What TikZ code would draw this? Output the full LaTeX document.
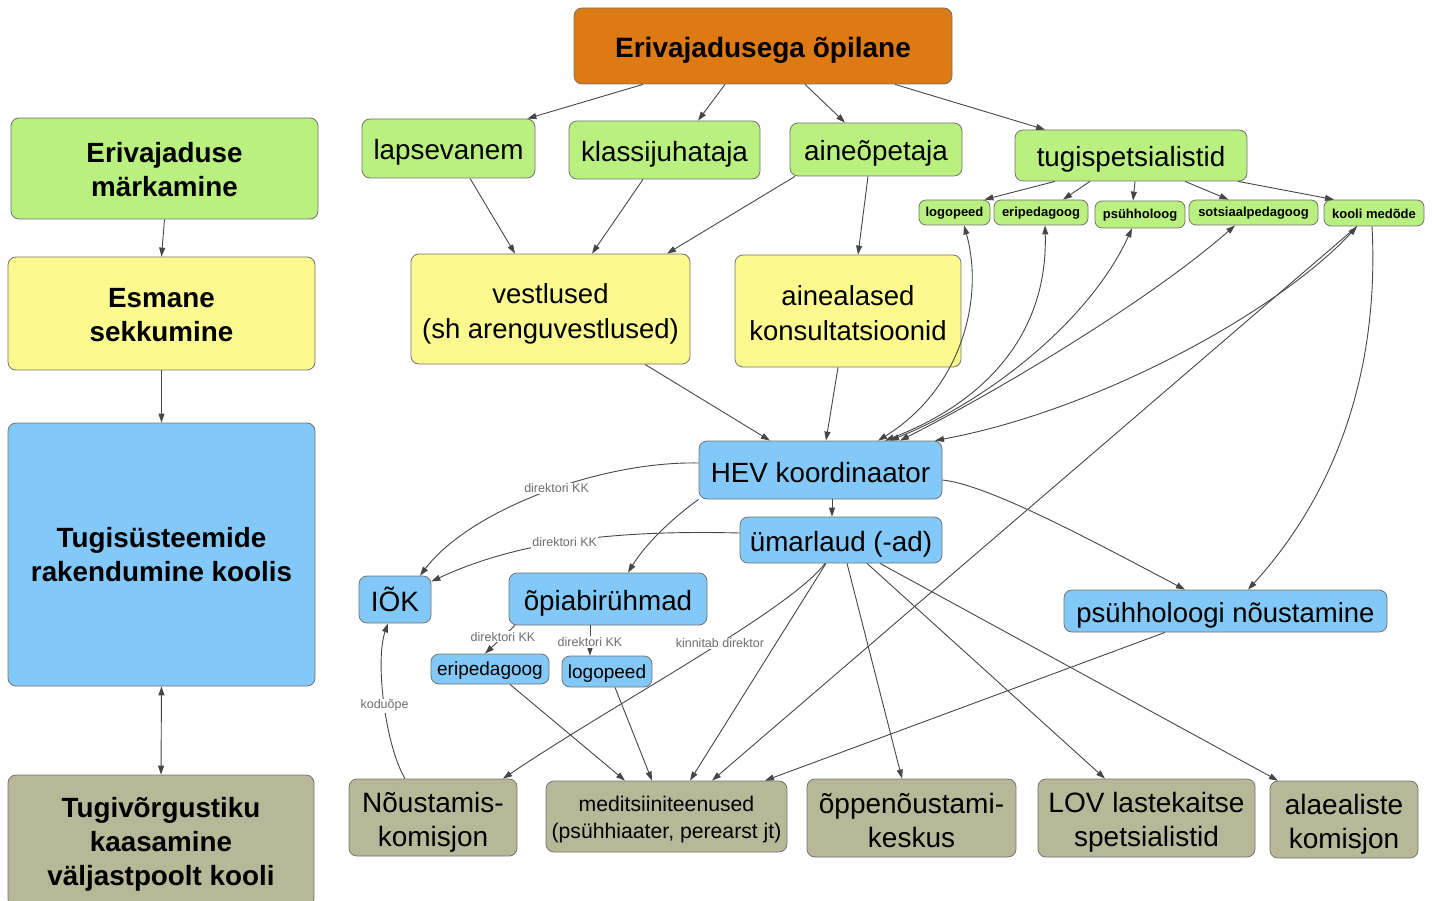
\documentclass[tikz,border=0pt]{standalone}
\usepackage{fontspec}
\setmainfont{Liberation Sans}
\usetikzlibrary{arrows.meta}
\definecolor{corange}{RGB}{221,122,20}
\definecolor{cgreen}{RGB}{185,240,128}
\definecolor{cyellow}{RGB}{252,250,142}
\definecolor{cblue}{RGB}{130,200,248}
\definecolor{colive}{RGB}{182,184,152}
\definecolor{bordc}{RGB}{115,115,110}
\definecolor{linec}{RGB}{70,70,70}
\definecolor{lblc}{RGB}{110,110,110}
\newcommand{\myfs}[2]{\fontsize{#1}{#2}\selectfont}
\newcommand{\dn}[2][4pt]{\raisebox{-#1}[\height][\depth]{#2}}
\begin{document}
\begin{tikzpicture}[x=1pt,y=-1pt,
  box/.style={draw=bordc, rounded corners=8pt, line width=0.8pt, inner sep=0pt, align=center, text=black, font=\myfs{27.8}{34}},
  bigbold/.style={box, font=\myfs{27.8}{34}\bfseries},
  small/.style={box, fill=cgreen, rounded corners=7pt, font=\myfs{13}{15}\bfseries},
  arr/.style={draw=linec, line width=0.9pt, -{Triangle[length=9pt,width=6pt]}},
  bi/.style={draw=linec, line width=0.9pt, {Triangle[length=9pt,width=6pt]}-{Triangle[length=9pt,width=6pt]}},
  lbl/.style={font=\myfs{12.5}{14}, text=lblc, fill=white, inner sep=1pt}
]
\useasboundingbox (0,0) rectangle (1434,901);

% left column
\node[bigbold, fill=cgreen, minimum width=307pt, minimum height=101pt] (L1) at (164.5,168.5) {\dn[1pt]{Erivajaduse}\\\dn[1pt]{märkamine}};
\node[bigbold, fill=cyellow, minimum width=307pt, minimum height=113pt] (L2) at (161.5,313.5) {\dn[2pt]{Esmane}\\\dn[2pt]{sekkumine}};
\node[bigbold, fill=cblue, minimum width=307pt, minimum height=263pt] (L3) at (161.5,554.5) {\dn[0.5pt]{Tugisüsteemide}\\\dn[0.5pt]{rakendumine koolis}};
\node[bigbold, fill=colive, minimum width=306pt, minimum height=132pt] (L4) at (161,841) {\dn[3.5pt]{Tugivõrgustiku}\\\dn[3.5pt]{kaasamine}\\\dn[3.5pt]{väljastpoolt kooli}};
\draw[arr] (L1.south) -- (L2.north);
\draw[arr] (L2.south) -- (L3.north);
\draw[bi] (L3.south) -- (L4.north);

% top
\node[box, fill=corange, minimum width=378pt, minimum height=76pt, font=\myfs{28}{32}\bfseries] (top) at (763,46) {\dn{Erivajadusega õpilane}};
\node[box, fill=cgreen, minimum width=173pt, minimum height=59pt] (lapse) at (448.5,148.5) {\dn{lapsevanem}};
\node[box, fill=cgreen, minimum width=191pt, minimum height=58pt] (klass) at (664.5,150) {\dn{klassijuhataja}};
\node[box, fill=cgreen, minimum width=172pt, minimum height=53pt] (aine) at (876,149.5) {\dn{aineõpetaja}};
\node[box, fill=cgreen, minimum width=232pt, minimum height=51pt] (tugi) at (1131,155.5) {\dn{tugispetsialistid}};

\node[small, minimum width=71pt, minimum height=25pt] (slogo) at (954.5,212.5) {\dn[1pt]{logopeed}};
\node[small, minimum width=94pt, minimum height=25pt] (seri) at (1041,212.5) {\dn[1pt]{eripedagoog}};
\node[small, minimum width=90pt, minimum height=27pt] (spsy) at (1140,214.5) {\dn[1pt]{psühholoog}};
\node[small, minimum width=129pt, minimum height=25pt] (ssots) at (1253.5,212.5) {\dn[1pt]{sotsiaalpedagoog}};
\node[small, minimum width=100pt, minimum height=26pt] (smed) at (1374,213) {\dn[1pt]{kooli medõde}};

\node[box, fill=cyellow, minimum width=279pt, minimum height=110pt, font=\myfs{27.5}{35}] (vest) at (550.5,309) {\dn[5pt]{vestlused}\\\dn[5pt]{(sh arenguvestlused)}};
\node[box, fill=cyellow, minimum width=226pt, minimum height=112pt, font=\myfs{27.5}{35}] (ainea) at (848,311) {\dn[2pt]{ainealased}\\\dn[2pt]{konsultatsioonid}};

\node[box, fill=cblue, minimum width=243pt, minimum height=58pt] (hev) at (820.5,470) {\dn[3pt]{HEV koordinaator}};
\node[box, fill=cblue, minimum width=202pt, minimum height=46pt] (umar) at (841,540) {\dn{ümarlaud (-ad)}};
\node[box, fill=cblue, minimum width=72pt, minimum height=47pt, font=\myfs{28}{34}] (iok) at (395,599.5) {IÕK};
\node[box, fill=cblue, minimum width=198pt, minimum height=52pt] (opi) at (608,599) {\dn{õpiabirühmad}};
\node[box, fill=cblue, minimum width=118pt, minimum height=30pt, font=\myfs{19}{22}] (beri) at (490,669) {\dn[2pt]{eripedagoog}};
\node[box, fill=cblue, minimum width=90pt, minimum height=31pt, font=\myfs{19}{22}] (blogo) at (607,671.5) {\dn[2pt]{logopeed}};
\node[box, fill=cblue, minimum width=323pt, minimum height=42pt, font=\myfs{27.5}{34}] (pnou) at (1225.5,611) {\dn{psühholoogi nõustamine}};

\node[box, fill=colive, minimum width=168pt, minimum height=77pt, font=\myfs{28}{33.5}] (nous) at (433,817.5) {\dn[5pt]{Nõustamis-}\\\dn[5pt]{komisjon}};
\node[box, fill=colive, minimum width=241pt, minimum height=71pt, font=\myfs{21.2}{27}] (medi) at (666.5,816.5) {\dn[3.5pt]{meditsiiniteenused}\\\dn[3.5pt]{(psühhiaater, perearst jt)}};
\node[box, fill=colive, minimum width=209pt, minimum height=78pt, font=\myfs{28}{34}] (oppe) at (911.5,818) {\dn[2pt]{õppenõustami-}\\\dn[2pt]{keskus}};
\node[box, fill=colive, minimum width=217pt, minimum height=78pt, font=\myfs{28}{34}] (lov) at (1146.5,818) {\dn[4.5pt]{LOV lastekaitse}\\\dn[4.5pt]{spetsialistid}};
\node[box, fill=colive, minimum width=148pt, minimum height=77pt, font=\myfs{28}{34}] (alae) at (1344,819.5) {\dn[4.5pt]{alaealiste}\\\dn[4.5pt]{komisjon}};

% top connectors
\draw[arr] ([xshift=-120pt]top.south) -- ([xshift=-8pt]lapse.north east);
\draw[arr] ([xshift=-38pt]top.south) -- ([xshift=33.5pt]klass.north);
\draw[arr] ([xshift=42pt]top.south) -- ([xshift=-31pt]aine.north);
\draw[arr] ([xshift=132pt]top.south) -- ([xshift=-86pt]tugi.north);

\draw[arr] ([xshift=-76pt]tugi.south) -- ([xshift=-6pt]slogo.north east);
\draw[arr] ([xshift=-41pt]tugi.south) -- ([xshift=22pt]seri.north);
\draw[arr] ([xshift=4pt]tugi.south) -- ([xshift=-7pt]spsy.north);
\draw[arr] ([xshift=54pt]tugi.south) -- ([xshift=-25pt]ssots.north);
\draw[arr] ([xshift=107pt]tugi.south) -- ([xshift=-40pt]smed.north);

\draw[arr] ([xshift=21.5pt]lapse.south) -- ([xshift=-35.5pt]vest.north);
\draw[arr] ([xshift=-21.5pt]klass.south) -- ([xshift=41.5pt]vest.north);
\draw[arr] ([xshift=-81pt]aine.south) -- ([xshift=116.5pt]vest.north);
\draw[arr] ([xshift=-8pt]aine.south) -- ([xshift=10pt]ainea.north);

\draw[arr] ([xshift=94.5pt]vest.south) -- ([xshift=-50.5pt]hev.north);
\draw[arr] ([xshift=-10pt]ainea.south) -- ([xshift=5.5pt]hev.north);

% specialists <-> HEV
\draw[bi] ([xshift=9.5pt]slogo.south) .. controls (985,300) and (960,390) .. ([xshift=57.5pt]hev.north);
\draw[bi] ([xshift=4pt]seri.south) .. controls (1048,330) and (990,400) .. ([xshift=64.5pt]hev.north);
\draw[bi] ([xshift=-8pt]spsy.south) .. controls (1090,320) and (990,400) .. ([xshift=69.5pt]hev.north);
\draw[bi] ([xshift=-18.5pt]ssots.south) .. controls (1150,300) and (1000,390) .. ([xshift=79.5pt]hev.north);
\draw[bi] ([xshift=-17pt]smed.south) .. controls (1280,310) and (1100,410) .. ([xshift=114.5pt]hev.north);
\draw[arr] ([xshift=-17pt]smed.south) -- ([xshift=45.5pt]medi.north);
\draw[arr] ([xshift=-2pt]smed.south) .. controls (1380,380) and (1330,500) .. ([xshift=22.5pt]pnou.north);

% HEV area
\draw[arr] ([xshift=11.5pt]hev.south) -- ([xshift=-9pt]umar.north);
\draw[arr] ([yshift=7pt]hev.west) .. controls (600,461) and (470,510) .. node[lbl, pos=0.45] {direktori KK} ([xshift=25pt]iok.north);
\draw[arr] ([yshift=7pt]umar.west) .. controls (620,530) and (520,540) .. node[lbl, pos=0.53] {direktori KK} ([yshift=18pt]iok.east);
\draw[arr] (hev.south west) .. controls (670,520) and (645,545) .. ([xshift=20pt]opi.north);
\draw[arr] ([xshift=-93pt]opi.south) -- node[lbl, pos=0.4] {direktori KK} ([xshift=-5pt]beri.north);
\draw[arr] ([xshift=-18pt]opi.south) -- node[lbl, pos=0.55] {direktori KK} ([xshift=-17pt]blogo.north);

\draw[arr] ([xshift=-16pt]umar.south) .. controls (790,610) and (620,700) .. node[lbl, pos=0.43] {kinnitab direktor} ([xshift=70pt]nous.north);
\draw[arr] ([xshift=-15pt]umar.south) -- ([xshift=23.5pt]medi.north);
\draw[arr] ([xshift=6pt]umar.south) -- ([xshift=-9.5pt]oppe.north);
\draw[arr] ([xshift=26pt]umar.south) -- ([xshift=-41.5pt]lov.north);
\draw[arr] ([xshift=39pt]umar.south) -- ([xshift=-66pt]alae.north);

\draw[arr] ([yshift=-10pt]hev.east) .. controls (990,485) and (1100,545) .. ([xshift=-40.5pt]pnou.north);
\draw[arr] ([xshift=-60.5pt]pnou.south) -- ([xshift=98.5pt]medi.north);
\draw[arr] ([xshift=20pt]beri.south) -- ([xshift=-41.5pt]medi.north);
\draw[arr] ([xshift=8pt]blogo.south) -- ([xshift=-14.5pt]medi.north);

\draw[arr] ([xshift=-28pt]nous.north) .. controls (385,745) and (375,660) .. node[lbl, pos=0.48] {koduõpe} ([xshift=-7pt]iok.south);
\end{tikzpicture}
\end{document}
